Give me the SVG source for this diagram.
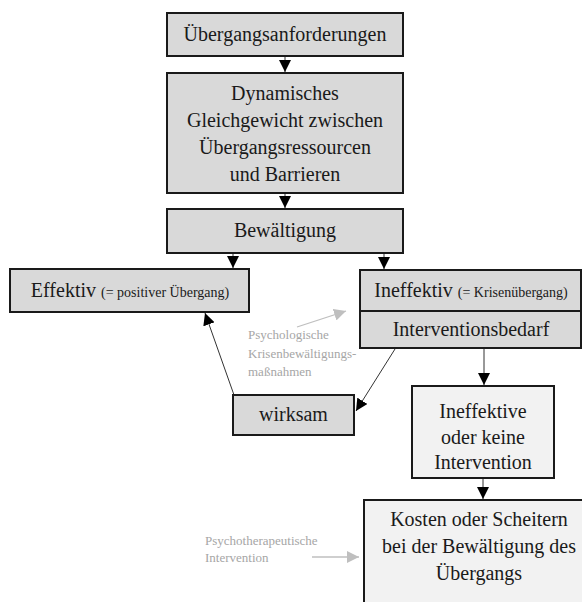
<svg xmlns="http://www.w3.org/2000/svg" width="582" height="602" viewBox="0 0 582 602" font-family="'Liberation Serif', 'DejaVu Serif', serif">
<style>
.box{fill:#d9d9d9;stroke:#1a1a1a;stroke-width:2}
.lbox{fill:#f2f2f2;stroke:#1a1a1a;stroke-width:2}
text{font-family:'Liberation Serif','DejaVu Serif',serif}
.t{font-size:20px;fill:#1a1a1a;text-anchor:middle}
.s{font-size:14px}
.g{font-size:13px;fill:#a6a6a6}
.c{stroke:#333;stroke-width:1;fill:none}
.cg{stroke:#bfbfbf;stroke-width:1.3;fill:none}
</style>
<defs>
<marker id="ah" markerUnits="userSpaceOnUse" markerWidth="12" markerHeight="12" viewBox="0 0 10 10" refX="10" refY="5" orient="auto">
<path d="M0,0 L10,5 L0,10 Z" fill="#000"/>
</marker>
<marker id="ahg" markerUnits="userSpaceOnUse" markerWidth="12" markerHeight="12" viewBox="0 0 10 10" refX="10" refY="5" orient="auto">
<path d="M0,0 L10,5 L0,10 Z" fill="#bfbfbf"/>
</marker>
</defs>
<g id="connectors">
<line class="c" x1="285" y1="57" x2="285" y2="72" marker-end="url(#ah)"/>
<line class="c" x1="285" y1="194" x2="285" y2="208" marker-end="url(#ah)"/>
<line class="c" x1="233" y1="254" x2="233" y2="268" marker-end="url(#ah)"/>
<line class="c" x1="384" y1="254" x2="384" y2="269" marker-end="url(#ah)"/>
<line class="c" x1="484" y1="349" x2="484" y2="385" marker-end="url(#ah)"/>
<line class="c" x1="483" y1="479" x2="483" y2="499" marker-end="url(#ah)"/>
<line class="c" x1="234" y1="395" x2="205" y2="313" marker-end="url(#ah)"/>
<line class="c" x1="395" y1="349" x2="356" y2="411" marker-end="url(#ah)"/>
<line class="cg" x1="297" y1="327" x2="346" y2="311" marker-end="url(#ahg)"/>
<line class="cg" x1="312" y1="557" x2="359" y2="557" marker-end="url(#ahg)"/>
</g>
<g id="n1">
<rect class="box" x="167" y="13" width="236" height="43"/>
<text class="t" x="285" y="41">Übergangsanforderungen</text>
</g>
<g id="n2">
<rect class="box" x="167" y="73" width="236" height="120"/>
<text class="t" x="285" y="100">Dynamisches</text>
<text class="t" x="285" y="127">Gleichgewicht zwischen</text>
<text class="t" x="285" y="154">Übergangsressourcen</text>
<text class="t" x="285" y="181">und Barrieren</text>
</g>
<g id="n3">
<rect class="box" x="167" y="209" width="236" height="44"/>
<text class="t" x="285" y="237">Bewältigung</text>
</g>
<g id="n4">
<rect class="box" x="10" y="269" width="239" height="43"/>
<text class="t" x="130" y="297">Effektiv <tspan class="s">(= positiver Übergang)</tspan></text>
</g>
<g id="n5">
<rect class="box" x="360" y="270" width="221" height="41"/>
<text class="t" x="471" y="297">Ineffektiv <tspan class="s">(= Krisenübergang)</tspan></text>
</g>
<g id="n6">
<rect class="box" x="360" y="311" width="221" height="37"/>
<text class="t" x="471" y="336">Interventionsbedarf</text>
</g>
<g id="n7">
<rect class="box" x="233" y="395" width="121" height="40"/>
<text class="t" x="293.5" y="421">wirksam</text>
</g>
<g id="n8">
<rect class="lbox" x="412" y="386" width="142" height="92"/>
<text class="t" x="483" y="418">Ineffektive</text>
<text class="t" x="483" y="444">oder keine</text>
<text class="t" x="483" y="469">Intervention</text>
</g>
<g id="n9">
<rect class="lbox" x="364" y="500" width="230" height="120"/>
<text class="t" x="479" y="526">Kosten oder Scheitern</text>
<text class="t" x="479" y="553">bei der Bewältigung des</text>
<text class="t" x="479" y="580">Übergangs</text>
</g>
<g id="labels">
<text class="g" x="248" y="339">Psychologische</text>
<text class="g" x="248" y="358">Krisenbewältigungs-</text>
<text class="g" x="248" y="376">maßnahmen</text>
<text class="g" x="205" y="545">Psychotherapeutische</text>
<text class="g" x="205" y="562">Intervention</text>
</g>
</svg>
